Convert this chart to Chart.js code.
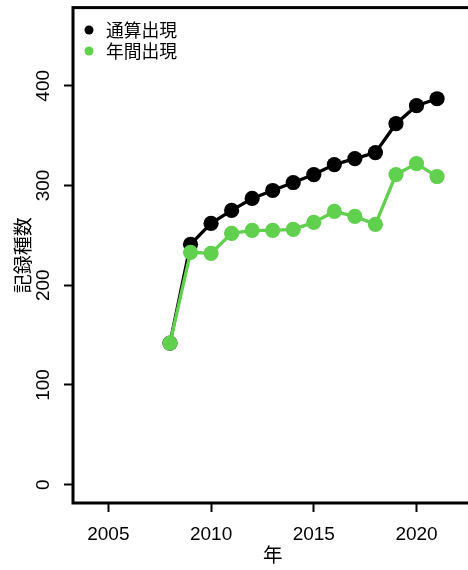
<!DOCTYPE html>
<html>
<head>
<meta charset="utf-8">
<script src="https://cdn.jsdelivr.net/npm/chart.js@4.4.0/dist/chart.umd.min.js"></script>
<style>
  html, body { margin: 0; padding: 0; background: #fff; overflow: hidden; }
  canvas { display: block; }
</style>
</head>
<body>
<canvas id="chart" width="480" height="570"></canvas>
<script>
// Data
const years = [2008, 2009, 2010, 2011, 2012, 2013, 2014, 2015, 2016, 2017, 2018, 2019, 2020, 2021];
const cumulative = [142, 241, 262, 275, 287, 295, 303, 311, 321, 327, 333, 362, 380, 387];
const annual = [142, 233, 232, 252, 255, 255, 256, 263, 274, 269, 261, 311, 322, 309];
const seriesLabels = ['通算出現', '年間出現'];
const seriesColors = ['#000000', '#61D04F'];
const xTicks = [2005, 2010, 2015, 2020];
const yTicks = [0, 100, 200, 300, 400];
const xRange = [2003.28, 2022.72];
const yRange = [-18.4, 478.4];

const latin = '"Liberation Sans", Arial, Helvetica, sans-serif';
const cjk = '"Noto Sans CJK JP", "Noto Sans", sans-serif';

// R style box around the plot region
const boxPlugin = {
  id: 'box',
  afterDraw(chart) {
    const { ctx, chartArea: a } = chart;
    ctx.save();
    ctx.strokeStyle = '#000';
    ctx.lineWidth = 3;
    ctx.strokeRect(a.left, a.top, a.right - a.left, a.bottom - a.top);
    ctx.restore();
  }
};

// Legend in the top-left corner of the plot
const legendPlugin = {
  id: 'cornerLegend',
  afterDraw(chart) {
    const { ctx } = chart;
    ctx.save();
    ctx.font = `17.8px ${cjk}`;
    ctx.textBaseline = 'middle';
    chart.data.datasets.forEach((ds, i) => {
      const y = 30 + i * 21;
      ctx.fillStyle = ds.borderColor;
      ctx.beginPath();
      ctx.arc(89, y, 4.5, 0, Math.PI * 2);
      ctx.fill();
      ctx.fillStyle = '#000';
      ctx.fillText(ds.label, 106, y);
    });
    ctx.restore();
  }
};

const axisGrid = {
  drawOnChartArea: false,
  drawTicks: true,
  tickLength: 9,
  tickWidth: 2,
  tickColor: '#000'
};

new Chart(document.getElementById('chart'), {
  type: 'line',
  data: {
    datasets: [cumulative, annual].map((vals, i) => ({
      label: seriesLabels[i],
      data: years.map((x, j) => ({ x, y: vals[j] })),
      borderColor: seriesColors[i],
      backgroundColor: seriesColors[i],
      pointBackgroundColor: seriesColors[i],
      borderWidth: 3.3,
      pointRadius: 7.6,
      pointBorderWidth: 0,
      tension: 0,
      order: 2 - i
    }))
  },
  options: {
    responsive: false,
    animation: false,
    layout: { padding: { left: 0, top: 6, right: 5, bottom: 0 } },
    plugins: {
      legend: { display: false },
      tooltip: { enabled: false }
    },
    scales: {
      x: {
        type: 'linear',
        min: xRange[0],
        max: xRange[1],
        afterBuildTicks: (s) => { s.ticks = xTicks.map(v => ({ value: v })); },
        afterFit: (s) => { s.height = 67; s.paddingLeft = 0; s.paddingRight = 0; },
        grid: axisGrid,
        border: { display: false },
        ticks: {
          color: '#000',
          font: { family: latin, size: 19 },
          padding: 11,
          maxRotation: 0,
          autoSkip: false,
          callback: (v) => String(v)
        },
        title: {
          display: true,
          text: '年',
          color: '#000',
          font: { family: cjk, size: 19.5 },
          padding: { top: 0, bottom: 4 }
        }
      },
      y: {
        type: 'linear',
        min: yRange[0],
        max: yRange[1],
        afterBuildTicks: (s) => { s.ticks = yTicks.map(v => ({ value: v })); },
        afterFit: (s) => { s.width = 73; s.paddingTop = 0; s.paddingBottom = 0; },
        grid: axisGrid,
        border: { display: false },
        ticks: {
          color: '#000',
          font: { family: latin, size: 19 },
          padding: 4,
          minRotation: 90,
          maxRotation: 90,
          crossAlign: 'center',
          autoSkip: false,
          callback: (v) => String(v)
        },
        title: {
          display: true,
          text: '記録種数',
          color: '#000',
          font: { family: cjk, size: 19 },
          padding: { top: 11, bottom: 0 }
        }
      }
    }
  },
  plugins: [boxPlugin, legendPlugin]
});
</script>
</body>
</html>
